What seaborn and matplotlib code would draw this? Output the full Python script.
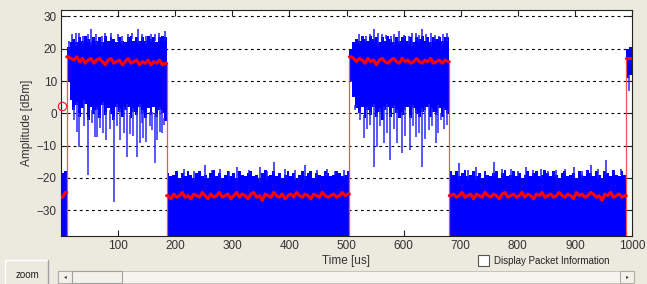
import numpy as np
import pandas as pd
import matplotlib
matplotlib.use("Agg")
import matplotlib.pyplot as plt
from matplotlib.patches import Rectangle
import seaborn as sns

# ---------------- data (5 us bins) ----------------
bin_width_us = 5
transition_us = [10, 185, 505, 680, 990]

blue_top = [
    -18.5, -18,
    # burst 1 (10-185 us)
    20.5, 22, 23, 22, 23.5, 22.5, 24, 23, 22, 23.5,
    22.5, 23.5, 22, 24, 22.5, 23.5, 23, 22, 23.5, 22.5,
    22, 23.5, 24, 22.5, 23.5, 22.5, 23.5, 22.5, 24, 23,
    23.5, 22, 23.5, 24, 23.5,
    # idle (185-505 us)
    -18.5, -19.5, -19, -18, -20, -18.5, -19.5, -18, -19, -20,
    -18.5, -18, -19.5, -19, -20, -18.5, -17.5, -19.5, -18.5, -20,
    -19, -18, -19.5, -18.5, -20, -18, -19, -19.5, -18.5, -18,
    -19.5, -19, -20, -18.5, -17.5, -19.5, -19, -18, -19.5, -18.5,
    -20, -19, -18, -19.5, -18.5, -20, -19, -18, -19.5, -18.5,
    -18, -20, -18.5, -19, -19.5, -18, -18.5, -19.5, -19, -18,
    -18.5, -19.5, -19, -18,
    # burst 2 (505-680 us)
    20, 22, 23, 22.5, 24, 23, 22.5, 24, 23, 23.5,
    22, 23.5, 22.5, 24, 23, 22, 23.5, 22.5, 23.5, 24,
    22.5, 23.5, 22, 23.5, 23, 24, 22.5, 23.5, 22, 23.5,
    23, 23.5, 22.5, 23.5, 23.5,
    # idle (680-990 us)
    -18, -19, -18, -19.5, -18.5, -17.5, -19.5, -19, -18, -19.5,
    -18.5, -20, -18, -19, -19.5, -18.5, -18, -20, -18.5, -17.5,
    -19.5, -19, -18, -19.5, -18.5, -20, -19, -18, -19.5, -18.5,
    -18, -19.5, -19, -17.5, -18.5, -19.5, -18, -19, -20, -18.5,
    -18, -19.5, -19, -18.5, -20, -18, -19, -19.5, -17.5, -18.5,
    -19.5, -18, -19, -20, -18, -18.5, -19.5, -17.5, -19, -19.5,
    -18, -19,
    # burst 3 start (990-1000 us)
    20, 20.5,
]

blue_bottom = [
    -40, -40,
    10, 4, 1, 2.5, -1, 1.5, 3, -2, 2, 0,
    1, -1.5, 2.5, -0.5, 1.5, 0, -2, 2, 0.5, -1,
    1, 2, -1.5, 0.5, -0.5, 2, 0, -1.5, 1.5, -0.5,
    2, -1, 1, 0, -2.5,
] + [-40] * 64 + [
    10, 5, 1.5, 0, 2, -1.5, 1, -0.5, 2, -1,
    0.5, -2, 1, 2, -1, 1.5, 0, -1.5, -0.5, 1,
    2, -1.5, 1.5, 0, -1, 0.5, 1, 2, -1, 0.5,
    -0.5, 1.5, -1, 1, 0,
] + [-40] * 62 + [11, 12]

red_level = [
    -26, -24.5,
    17.5, 17, 16.5, 17.5, 16, 17, 15.5, 16.5, 17, 15.5,
    16.5, 17, 16, 15, 16.5, 17, 15.5, 16, 16.5, 15,
    16, 17, 15.5, 16, 16.5, 15, 16, 15.5, 16.5, 15,
    16, 15.5, 16.5, 15, 15.5,
    -25.5, -26.5, -25, -26, -25.5, -24.5, -26, -25.5, -26.5, -25,
    -25.5, -26, -24.5, -25.5, -26.5, -25, -26, -25.5, -24.5, -26,
    -25.5, -25, -26.5, -25.5, -24.5, -26, -25, -25.5, -26.5, -25,
    -24.5, -26, -25.5, -27, -25, -25.5, -26, -24.5, -25.5, -26,
    -25, -26.5, -25.5, -25, -26, -24.5, -25.5, -26, -25, -25.5,
    -26.5, -25, -25.5, -26, -24.5, -25.5, -26, -25.5, -25, -26,
    -25.5, -24.5, -25.5, -25,
    17.5, 17, 16, 17, 16.5, 15.5, 17, 16, 16.5, 15,
    16.5, 17, 16, 15.5, 16.5, 17, 16, 15.5, 17, 16,
    16.5, 15.5, 16, 17, 16, 15.5, 16.5, 16, 17, 15.5,
    16, 16.5, 15.5, 16.5, 16,
    -25.5, -25, -26, -25.5, -24.5, -26, -25.5, -25, -26.5, -25,
    -25.5, -26, -24.5, -25.5, -26, -25, -25.5, -26.5, -25, -24.5,
    -26, -25.5, -25, -26, -25.5, -24.5, -26, -25, -25.5, -26.5,
    -25, -25.5, -24.5, -26, -25.5, -25, -26, -25.5, -24.5, -25.5,
    -26, -25, -25.5, -26.5, -24.5, -25.5, -25, -26, -25.5, -24.5,
    -25, -26, -25.5, -27, -25, -25.5, -24.5, -26, -25.5, -25,
    -26, -25.5,
    17, 17,
]

# thin upward spikes above the band
peak_t = [14, 20, 26, 31, 38, 47, 53, 61, 71, 77, 88, 100, 106, 117.5, 124,
          135, 142, 149.5, 157, 164, 172, 182,
          214.6, 233, 252.6, 265, 278.9, 295, 308, 330, 349, 360, 372.5, 393,
          410, 428, 448.5, 466, 480, 495,
          521.6, 528, 533.3, 541, 548, 555, 562.6, 570, 577.2, 584, 591.8,
          600, 609.4, 615, 621, 627, 632.7, 640, 647.4, 655, 662, 669, 676.6,
          697, 712, 726.3, 742, 758.5, 772, 787.7, 800, 814, 827, 840.4, 853,
          866.7, 882, 898.8, 912, 928, 941, 954.4, 968, 980.7]
peak_v = [22.5, 24.5, 25, 25, 24, 24.5, 26, 24.5, 23.9, 25, 25, 24.5, 24, 24.5, 25,
          26, 24.5, 23.9, 24.5, 24.5, 25, 25.5,
          -17.1, -17.8, -16, -17.5, -17.1, -17.8, -16.6, -17.6, -16.6, -17.8, -15, -17.1,
          -17.6, -16, -17.6, -17.1, -17.8, -17.6,
          24.5, 24, 23.9, 24.5, 26, 24.8, 24.5, 24.2, 23.9, 24.6, 25.5,
          24.3, 23.9, 24.8, 25, 24.2, 26, 24.5, 25, 24.4, 23.9, 24.7, 25,
          -15.5, -17.5, -16.6, -17.8, -15, -17.4, -17.1, -17.8, -16.6, -17.5, -17.1, -17.9,
          -17.6, -17.2, -16.6, -17.8, -16, -17.4, -14.5, -17.6, -17.1]

# downward dips inside the bursts
dip_t = [22, 27.5, 31.5, 40, 48, 55, 59, 62.5, 67.5, 73, 79, 86, 93.5, 98, 104,
         110, 115, 120, 126, 133, 137.5, 141, 144, 148.5, 155, 159.5, 165, 169,
         173.5, 177, 180,
         515, 524.5, 530.5, 536, 541, 548, 554, 558, 565.5, 571, 577, 583, 589,
         597.5, 603, 612, 617, 621, 627, 631.5, 638, 644.5, 650, 656, 660, 665,
         670, 676.5, 994]
dip_v = [-2, -5.7, -10.4, -4, -19.2, -3, -7.2, -7.2, -4.5, -6, -8.3, -5, -27.6, -4, -8.3,
         -6, -13.4, -6.5, -7, -13.4, -9.3, -3, -7.5, -8.8, -4, -5.1, -15.5, -8.3,
         -5.7, -6, -3.5,
         1, -2, -7.7, -5, -3.6, -16.6, -10.3, -4, -9.3, -6, -14.5, -5, -9.3,
         -12.4, -7, -11.4, -4, -7.2, -6, -16.6, -8, -5.1, -4, -9.3, -6, -2,
         -5, -3.6, 6.8]

marker_t, marker_v = [1.0], [2.2]

x_ticks = [100, 200, 300, 400, 500, 600, 700, 800, 900, 1000]
y_ticks = [-30, -20, -10, 0, 10, 20, 30]

# ---------------- drawing ----------------
sns.set_theme(style="white")
plt.rcParams["font.family"] = ["Liberation Sans", "DejaVu Sans"]

BG = "#ECE9DE"
W, H = 647, 284
fig = plt.figure(figsize=(W / 100, H / 100), dpi=100, facecolor=BG)
ax = fig.add_axes([61 / W, 1 - 236 / H, (632 - 61) / W, (236 - 10) / H])
ax.set_facecolor("white")

t_start = np.arange(len(blue_top)) * bin_width_us
t_edges = np.append(t_start, t_start[-1] + bin_width_us)
top = np.array(blue_top + [blue_top[-1]], dtype=float)
bot = np.array(blue_bottom + [blue_bottom[-1]], dtype=float)
ax.fill_between(t_edges, bot, top, step="post", color="#0000FF", lw=0, zorder=2)

top_arr = np.array(blue_top, dtype=float)
bot_arr = np.array(blue_bottom, dtype=float)

# thin spikes above the band
pidx = np.clip((np.array(peak_t) // bin_width_us).astype(int), 0, len(top_arr) - 1)
ax.vlines(peak_t, top_arr[pidx] - 1, np.array(peak_v),
          color="#1A1AFF", lw=1.1, zorder=2)

# thin dips drawn from the band bottom
idx = np.clip((np.array(dip_t) // bin_width_us).astype(int), 0, len(bot_arr) - 1)
ax.vlines(dip_t, np.array(dip_v), bot_arr[idx] + 1,
          color="#2A2AFF", lw=1.1, zorder=2)

# red trace per segment
red = np.array(red_level, dtype=float)
t_mid = t_start + bin_width_us / 2
seg_id = np.digitize(t_mid, transition_us)
df = pd.DataFrame({"t": t_mid, "v": red, "seg": seg_id})
for s, g in df.groupby("seg"):
    gx = np.concatenate([[g.t.iloc[0] - bin_width_us / 2], g.t.values,
                         [g.t.iloc[-1] + bin_width_us / 2]])
    gy = np.concatenate([[g.v.iloc[0]], g.v.values, [g.v.iloc[-1]]])
    sns.lineplot(x=gx, y=gy, ax=ax, color="#FF0000", lw=2.2, zorder=4,
                 estimator=None, sort=False)

# pale red transition lines
hi_red = [red[int(t // bin_width_us)] if red[int(t // bin_width_us)] > 0
          else red[int(t // bin_width_us) - 1] for t in transition_us]
ax.vlines(transition_us, -38, hi_red, color="#FF5050", lw=0.9, zorder=3)

ax.plot(marker_t, marker_v, "o", mfc="none", mec="#FF2020", ms=6, mew=0.9,
        clip_on=False, zorder=5)

ax.set_xlim(0, 1000)
ax.set_ylim(-38, 32)
ax.set_xticks(x_ticks)
ax.set_yticks(y_ticks)
ax.set_axisbelow(True)
ax.yaxis.grid(True, linestyle=(0, (2.5, 3)), color="black", lw=0.8)
ax.xaxis.grid(False)
ax.tick_params(direction="in", length=4, width=0.8, top=True, right=True,
               bottom=True, left=True, colors="#222222", labelsize=8.5,
               labelcolor="#333333", pad=3)
for sp in ax.spines.values():
    sp.set_color("#222222")
    sp.set_linewidth(0.8)
ax.set_xlabel("Time [us]", fontsize=8.5, color="#333333", labelpad=2)
ax.set_ylabel("Amplitude [dBm]", fontsize=8.5, color="#333333", labelpad=3)

# ---------------- GUI chrome ----------------
def px_rect(x0, y0, x1, y1, **kw):
    return Rectangle((x0 / W, 1 - y1 / H), (x1 - x0) / W, (y1 - y0) / H,
                     transform=fig.transFigure, **kw)

# zoom button
fig.patches.append(px_rect(5, 260, 48, 290, facecolor=BG, edgecolor="none"))
fig.lines.append(plt.Line2D([5 / W, 48 / W], [1 - 260 / H, 1 - 260 / H],
                            transform=fig.transFigure, color="white", lw=1))
fig.lines.append(plt.Line2D([5 / W, 5 / W], [1 - 260 / H, 0],
                            transform=fig.transFigure, color="white", lw=1))
fig.lines.append(plt.Line2D([48 / W, 48 / W], [1 - 260 / H, 0],
                            transform=fig.transFigure, color="#A0A0A0", lw=1))
fig.text(27 / W, 1 - 275 / H, "zoom", fontsize=7, ha="center", va="center",
         color="#222222")

# scrollbar
fig.patches.append(px_rect(58, 271, 634, 283, facecolor="#F5F4EF",
                           edgecolor="#C8C6BC", lw=0.8))
fig.patches.append(px_rect(58, 271, 72, 283, facecolor="#F2F1EA",
                           edgecolor="#B0AEA4", lw=0.8))
fig.patches.append(px_rect(72, 271, 122, 283, facecolor="#F2F1EA",
                           edgecolor="#A0A0A0", lw=0.8))
fig.patches.append(px_rect(620, 271, 634, 283, facecolor="#F2F1EA",
                           edgecolor="#B0AEA4", lw=0.8))
fig.text(65 / W, 1 - 277 / H, "\u25C2", fontsize=4, ha="center", va="center",
         color="#333333")
fig.text(627 / W, 1 - 277 / H, "\u25B8", fontsize=4, ha="center", va="center",
         color="#333333")

# checkbox
fig.patches.append(px_rect(478, 255, 489, 266, facecolor="white",
                           edgecolor="#555555", lw=0.8))
fig.text(494 / W, 1 - 261 / H, "Display Packet Information", fontsize=7,
         ha="left", va="center", color="#222222")

fig.savefig("out.png", dpi=100, facecolor=BG)
